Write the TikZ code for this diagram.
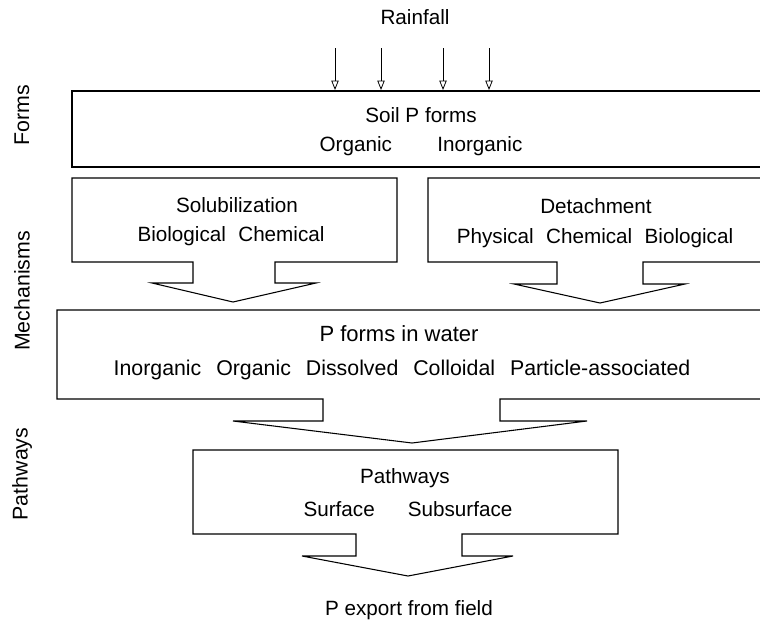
\documentclass[tikz,border=0pt]{standalone}
\usepackage{fontspec}
\setmainfont{Liberation Sans}
\usetikzlibrary{arrows.meta}

\begin{document}
\begin{tikzpicture}[x=0.75pt,y=-0.75pt,line width=0.8pt,
  rain/.style={-{Triangle[open,length=7pt,width=5.5pt]},line width=0.6pt},
  side/.style={rotate=90,font=\fontsize{16}{18}\selectfont}]
		\tikzstyle{every node}+=[inner sep=0pt,font=\fontsize{15.5}{18}\selectfont]
		\useasboundingbox (0,0) rectangle (760,626);
		\clip (0,0) rectangle (760,626);
		% rainfall
		\node (rainfall) at (415,17) {Rainfall};
		\coordinate (soiltop) at (0,90);
		\foreach \x [count=\i] in {335,381,443,489} {
			\coordinate (r\i) at (\x,48);
			\draw [rain] (r\i) -- (r\i |- soiltop);
		}
		% side labels
		\node [side] (forms) at (22,115) {Forms};
		\node [side] (mech) at (22,291) {Mechanisms};
		\node [side] (paths) at (22,474) {Pathways};
		% soil P forms
		\draw (72,91) rectangle (775,167);
		\node (soil) at (421,115) {Soil P forms};
		\node (soilrow) at (421,146) {Organic\hspace{2.2em}Inorganic};
		% solubilization
		\draw (72,178) -- (397,178) -- (397,262) -- (275,262) -- (275,283) -- (316,283)
			-- (233,302) -- (152,283) -- (193,283) -- (193,262) -- (72,262) -- cycle;
		\node (solub) at (237,205) {Solubilization};
		\node (solubrow) at (231,236) {Biological\hspace{0.6em}Chemical};
		% detachment
		\draw (428,178) -- (775,178) -- (775,262) -- (643,262) -- (643,284) -- (685,284)
			-- (600,303) -- (514,284) -- (557,284) -- (557,262) -- (428,262) -- cycle;
		\node (detach) at (596,206) {Detachment};
		\node (detachrow) at (595,238) {Physical\hspace{0.6em}Chemical\hspace{0.6em}Biological};
		% P forms in water
		\draw (57,310) -- (775,310) -- (775,399) -- (500,399) -- (500,421) -- (587,421)
			-- (412,443) -- (233,421) -- (323,421) -- (323,399) -- (57,399) -- cycle;
		\node [font=\fontsize{16.5}{18}\selectfont] (water) at (399,334) {P forms in water};
		\node [font=\fontsize{16}{18}\selectfont] (waterrow) at (402,370) {Inorganic\hspace{0.7em}Organic\hspace{0.7em}Dissolved\hspace{0.7em}Colloidal\hspace{0.7em}Particle-associated};
		% pathways
		\draw (193,450) -- (618,450) -- (618,534) -- (462,534) -- (462,556) -- (513,556)
			-- (408,576) -- (302,556) -- (356,556) -- (356,534) -- (193,534) -- cycle;
		\node (pathways) at (405,478) {Pathways};
		\node (pathrow) at (408,509) {Surface\hspace{1.6em}Subsurface};
		% export
		\node (export) at (409,610) {P export from field};
\end{tikzpicture}
\end{document}
